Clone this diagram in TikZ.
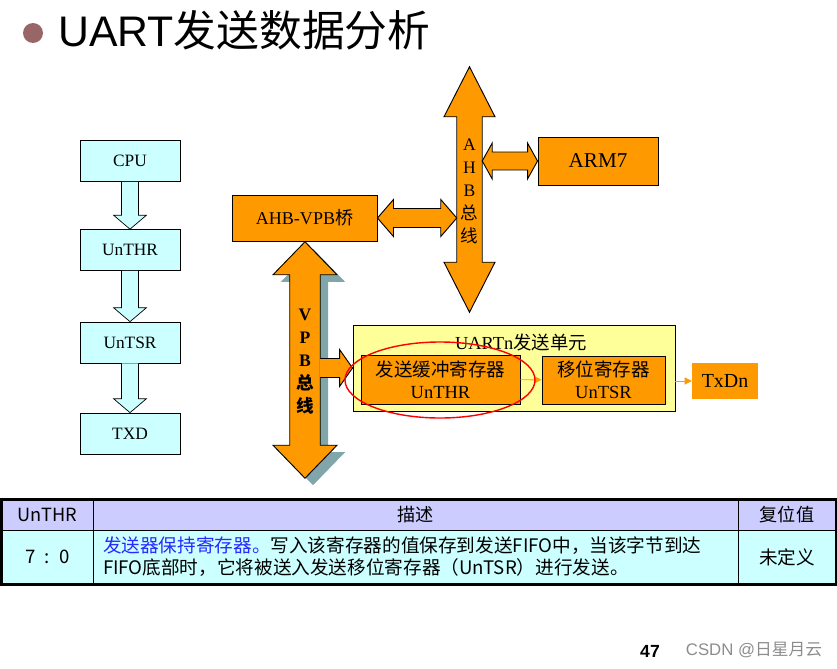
\documentclass[tikz,border=0pt]{standalone}
\usepackage{fontspec}
\setmainfont{Liberation Serif}
\newfontfamily\cjk{Noto Sans CJK SC}
\newfontfamily\arial{Liberation Sans}
\usetikzlibrary{calc,arrows.meta}

\newlength\pxu
\setlength\pxu{0.03cm}

\definecolor{busorange}{RGB}{255,153,0}
\definecolor{regcyan}{RGB}{204,255,255}
\definecolor{unityellow}{RGB}{255,255,153}
\definecolor{headlilac}{RGB}{204,204,255}
\definecolor{shadowgray}{RGB}{128,166,170}
\definecolor{bulletrose}{RGB}{153,102,102}
\definecolor{noteblue}{RGB}{40,40,255}

\tikzset{
  regbox/.style={draw, fill=regcyan, line width=0.6pt, minimum width=100\pxu, minimum height=41\pxu, inner sep=0pt, font=\fontsize{14.8}{17}\selectfont},
  orangebox/.style={draw, fill=busorange, line width=0.8pt, inner sep=0pt},
  regdown/.style={draw, fill=regcyan, line width=0.6pt},
  busarrow/.style={draw, fill=busorange, line width=0.8pt},
  busletters/.style={align=center, inner sep=0pt, font=\fontsize{15}{19.6}\selectfont},
  feed/.style={draw=busorange, line width=0.8pt, -{Triangle[length=6pt,width=6pt]}},
  headcell/.style={draw, fill=headlilac, line width=0.6pt, minimum height=30\pxu, inner sep=0pt, font=\cjk\fontsize{15.5}{18}\selectfont},
  bodycell/.style={draw, fill=regcyan, line width=0.6pt, minimum height=54\pxu, inner sep=0pt, font=\cjk\fontsize{15.9}{18.8}\selectfont},
}

% fat arrow down between two register boxes
\newcommand\regflow[2]{%
  \path[regdown] ($(#1.south)+(-8.5,0)$) -- ($(#2.north)+(-8.5,-14)$) -- ($(#2.north)+(-16.5,-14)$)
    -- (#2.north) -- ($(#2.north)+(16.5,-14)$) -- ($(#2.north)+(8.5,-14)$) -- ($(#1.south)+(8.5,0)$);}
% vertical bus: #2 node, #3 head half width, #4 head length
\newcommand\vbus[4][]{%
  \path[busarrow,#1] (#2.north) -- ($(#2.north)+(#3,#4)$) -- ($(#2.north east)+(0,#4)$)
    -- ($(#2.south east)+(0,-#4)$) -- ($(#2.south)+(#3,-#4)$) -- (#2.south)
    -- ($(#2.south)+(-#3,-#4)$) -- ($(#2.south west)+(0,-#4)$)
    -- ($(#2.north west)+(0,#4)$) -- ($(#2.north)+(-#3,#4)$) -- cycle;}
% horizontal double arrow: left, right, head half, shaft half, head length
\newcommand\hbus[5]{%
  \path[busarrow] (#1) -- ($(#1)+(#5,-#3)$) -- ($(#1)+(#5,-#4)$) -- ($(#2)+(-#5,-#4)$)
    -- ($(#2)+(-#5,-#3)$) -- (#2) -- ($(#2)+(-#5,#3)$) -- ($(#2)+(-#5,#4)$)
    -- ($(#1)+(#5,#4)$) -- ($(#1)+(#5,#3)$) -- cycle;}

\begin{document}
\begin{tikzpicture}[x=0.03cm, y=-0.03cm]
\useasboundingbox (0,0) rectangle (837,668);

% title
\node[circle, fill=bulletrose, minimum size=20\pxu, inner sep=0pt] (bullet) at (33,33) {};
\node[anchor=west, inner sep=0pt, font=\arial\fontsize{36.5}{40}\selectfont] (title) at (58,30) {UART{\cjk 发送数据分析}};

% left chain
\node[regbox] (cpu) at (130,161) {CPU};
\node[regbox] (thr) at (130,250) {UnTHR};
\node[regbox] (tsr) at (130,342.5) {UnTSR};
\node[regbox] (txd) at (130,433.5) {TXD};
\regflow{cpu}{thr}
\regflow{thr}{tsr}
\regflow{tsr}{txd}

% AHB side
\node[orangebox, minimum width=120\pxu, minimum height=48\pxu, font=\fontsize{18}{20}\selectfont] (arm) at (598,161) {ARM7};
\node[orangebox, minimum width=145\pxu, minimum height=46\pxu, font=\fontsize{15.4}{18}\selectfont] (bridge) at (304.5,218) {AHB-VPB{\cjk 桥}};
\node[minimum width=25\pxu, minimum height=245\pxu, inner sep=0pt] (ahb) at (469.5,189.5) {};
\vbus{ahb}{25.5}{50}
\node[busletters] (ahbname) at (469.5,191) {A\\H\\B\\{\cjk 总}\\{\cjk 线}};
\coordinate (ahbleft) at (bridge.east -| ahb.west);
\coordinate (ahbright) at (arm.west -| ahb.east);
\hbus{bridge.east}{ahbleft}{18.5}{9.5}{16}
\hbus{ahbright}{arm.west}{18}{9}{10}

% VPB bus
\node[minimum width=30\pxu, minimum height=236\pxu, inner sep=0pt] (vpb) at (305,360) {};
\begin{scope}[transform canvas={shift={(8,7)}}]
  \vbus[draw=none, fill=shadowgray]{vpb}{32}{33}
\end{scope}
\vbus{vpb}{32}{33}
\node[busletters, font=\bfseries\fontsize{15}{19.6}\selectfont] (vpbname) at (305,362) {V\\P\\B\\{\cjk 总}\\{\cjk 线}};

% UART transmit unit
\node[draw, fill=unityellow, line width=0.8pt, minimum width=322\pxu, minimum height=86\pxu] (uart) at (514,368) {};
\node[font=\cjk\fontsize{15.7}{18}\selectfont, inner sep=0pt] (uartname) at (521,342) {{\rmfamily UARTn}发送单元};
\node[orangebox, minimum width=159\pxu, minimum height=49\pxu, align=center, font=\fontsize{15.8}{18.8}\selectfont] (thrreg) at (440.5,379.5) {{\cjk 发送缓冲寄存器}\\UnTHR};
\node[orangebox, minimum width=123\pxu, minimum height=48\pxu, align=center, font=\fontsize{15.8}{18.8}\selectfont] (tsrreg) at (603.5,380) {{\cjk 移位寄存器}\\UnTSR};
\node[fill=busorange, minimum width=66\pxu, minimum height=36\pxu, inner sep=0pt, font=\fontsize{17}{20}\selectfont] (txdn) at (725,381) {TxDn};
\coordinate (vpbout) at (vpb.east |- uart.west);
\path[busarrow] ($(vpbout)+(0,-9.5)$) -- ($(uart.west)+(-13,-9.5)$) -- ($(uart.west)+(-13,-18.5)$) -- (uart.west)
  -- ($(uart.west)+(-13,18.5)$) -- ($(uart.west)+(-13,9.5)$) -- ($(vpbout)+(0,9.5)$);
\draw[feed] (thrreg) -- (tsrreg);
\draw[feed] (txdn.west -| uart.east) -- (txdn.west);
\draw[red, line width=1.2pt] (440,380) ellipse [x radius=2.85cm, y radius=1.14cm];

% register table
\node[headcell, minimum width=91\pxu] (hbits) at (47.5,515) {UnTHR};
\node[headcell, minimum width=645\pxu] (hdesc) at (415.5,515) {描述};
\node[headcell, minimum width=98\pxu] (hreset) at (787,515) {复位值};
\node[bodycell, minimum width=91\pxu] (bits) at (47.5,557) {7 ~:~ 0};
\node[bodycell, minimum width=645\pxu, text width=625\pxu, inner xsep=10\pxu, align=left] (desc) at (415.5,557)
  {\textcolor{noteblue}{发送器保持寄存器。}写入该寄存器的值保存到发送FIFO中，当该字节到达\\FIFO底部时，它将被送入发送移位寄存器（UnTSR）进行发送。};
\node[bodycell, minimum width=98\pxu] (reset) at (787,557) {未定义};
\draw[line width=2pt] (hbits.north west) rectangle (reset.south east);

% footer
\node[font=\arial\bfseries\fontsize{15}{17}\selectfont] (page) at (650,651) {47};
\node[font=\arial\fontsize{14.3}{17}\selectfont, text=black!45] (mark) at (754,650) {CSDN @{\cjk 日星月云}};
\end{tikzpicture}
\end{document}
